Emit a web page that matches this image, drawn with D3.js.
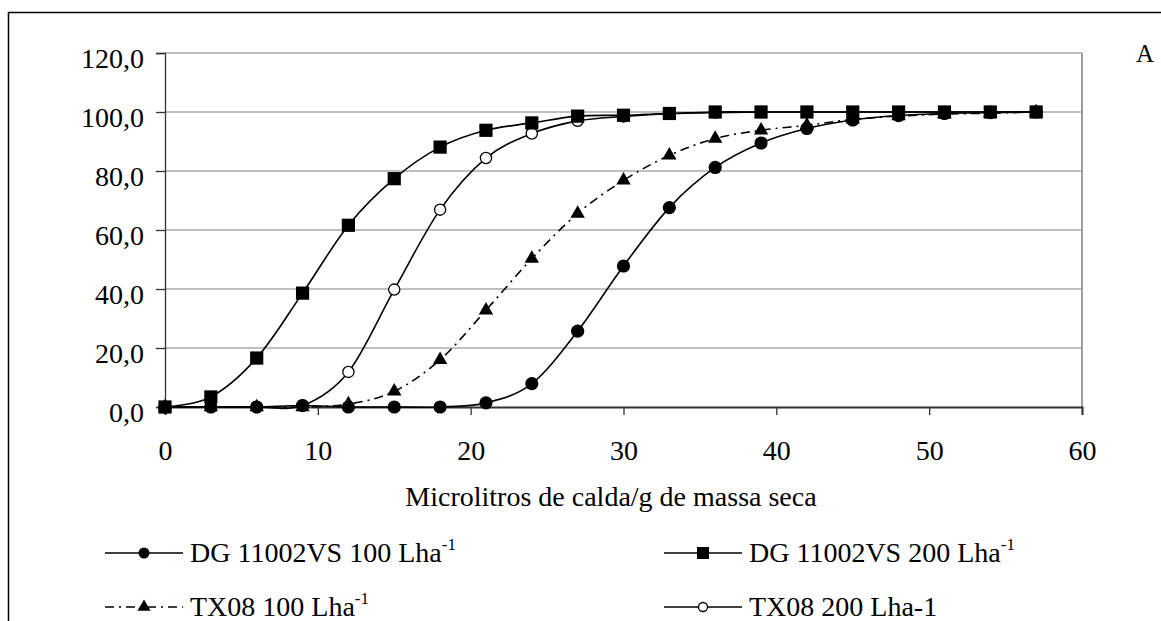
<!DOCTYPE html>
<html><head><meta charset="utf-8">
<script src="https://cdn.jsdelivr.net/npm/d3@7/dist/d3.min.js"></script>
<style>body{margin:0;background:#fff;} text{font-family:"Liberation Serif","Times New Roman",serif;fill:#000;}</style>
</head><body><svg id="c" width="1161" height="621"></svg>
<script>
const xValues = [0,3,6,9,12,15,18,21,24,27,30,33,36,39,42,45,48,51,54,57];
const dg100 = [0,0,0,0.5,0,0,0,1.4,7.9,25.7,47.8,67.6,81.2,89.5,94.4,97.3,98.8,99.5,99.8,100];
const dg200 = [0,3.4,16.6,38.6,61.6,77.4,88.1,93.8,96.3,98.6,98.9,99.5,100,100,100,100,100,100,100,100];
const tx100 = [0,0,0,0,1,5.3,16,32.8,50.3,65.6,76.8,85.3,91,93.8,95.5,97.5,98.6,99.3,99.6,100];
const tx200 = [0,0,0,0.5,11.9,39.8,66.9,84.4,92.7,97,98.5,99.4,99.8,100,100,100,100,100,100,100];
const seriesNames = ["DG 11002VS 100 Lha","DG 11002VS 200 Lha","TX08 100 Lha","TX08 200 Lha-1"];
const seriesSup = ["-1","-1","-1",""];
const xTicks = [0,10,20,30,40,50,60];
const yTicks = [0,20,40,60,80,100,120];
const yTickLabels = ["0,0","20,0","40,0","60,0","80,0","100,0","120,0"];
const xTitle = "Microlitros de calda/g de massa seca";
const panelLabel = "A";

const svg = d3.select("#c");
const x = d3.scaleLinear().domain([0,60]).range([165,1082]);
const y = d3.scaleLinear().domain([0,120]).range([407,53]);

// outer frame (clipped right/bottom)
svg.append("path").attr("d","M8.5,621 V12.5 H1161").attr("fill","none").attr("stroke","#000").attr("stroke-width",1.5);

// gridlines
svg.append("g").selectAll("line").data(yTicks.filter(d=>d>0)).join("line")
  .attr("x1",x(0)).attr("x2",x(60)).attr("y1",d=>y(d)).attr("y2",d=>y(d))
  .attr("stroke","#808080").attr("stroke-width",1.2);
// right border of plot area
svg.append("line").attr("x1",x(60)).attr("x2",x(60)).attr("y1",y(120)).attr("y2",y(0))
  .attr("stroke","#808080").attr("stroke-width",1.5);

// axes
const yAxis = d3.axisLeft(y).tickValues(yTicks).tickSize(9).tickPadding(12)
  .tickFormat((d,i)=>yTickLabels[i]);
const gy = svg.append("g").attr("transform",`translate(${x(0)},0)`).call(yAxis);
gy.select(".domain").attr("stroke","#333").attr("stroke-width",1.3);
gy.selectAll(".tick line").attr("stroke","#333").attr("stroke-width",1.3);
gy.selectAll("text").attr("font-size",28).attr("dy","0.5em").style("font-family","Liberation Serif").attr("fill","#000");

const xAxis = d3.axisBottom(x).tickValues(xTicks).tickSize(8).tickPadding(25).tickFormat(d3.format("d"));
const gx = svg.append("g").attr("transform",`translate(0,${y(0)})`).call(xAxis);
gx.select(".domain").attr("stroke","#333").attr("stroke-width",2);
gx.selectAll(".tick line").attr("stroke","#333").attr("stroke-width",1.3);
gx.selectAll("text").attr("font-size",28).style("font-family","Liberation Serif").attr("fill","#000");

svg.append("text").attr("x",611).attr("y",506).attr("text-anchor","middle").attr("font-size",28).text(xTitle);
svg.append("text").attr("x",1136).attr("y",62).attr("font-size",25).text(panelLabel);

const series = [
  {v:dg100, marker:"circle", dash:null},
  {v:dg200, marker:"square", dash:null},
  {v:tx100, marker:"triangle", dash:"9,5,2,5"},
  {v:tx200, marker:"open", dash:null}
];

function drawMarker(g, type, cx, cy){
  if(type==="circle") g.append("circle").attr("cx",cx).attr("cy",cy).attr("r",6.6).attr("fill","#000");
  else if(type==="square") g.append("rect").attr("x",cx-6.6).attr("y",cy-6.6).attr("width",13.2).attr("height",13.2).attr("fill","#000");
  else if(type==="triangle") g.append("path").attr("d",d3.symbol().type(d3.symbolTriangle).size(90)()).attr("transform",`translate(${cx},${cy})`).attr("fill","#000");
  else g.append("circle").attr("cx",cx).attr("cy",cy).attr("r",5.6).attr("fill","#fff").attr("stroke","#000").attr("stroke-width",1.3);
}

const line = d3.line().x((d,i)=>x(xValues[i])).y(d=>y(d)).curve(d3.curveCardinal.tension(0));
series.forEach(s=>{
  svg.append("path").attr("d",line(s.v)).attr("fill","none").attr("stroke","#000").attr("stroke-width",1.6)
    .attr("stroke-dasharray",s.dash);
});
// markers: draw order so squares end up on top, as in the reference
[3,0,2,1].forEach(k=>{
  const s = series[k];
  const g = svg.append("g");
  s.v.forEach((v,i)=>drawMarker(g,s.marker,x(xValues[i]),y(v)));
});

// legend
const legPos = [[105,553],[664,553],[105,607],[664,607]];
series.forEach((s,i)=>{
  const [lx,ly] = legPos[i];
  const g = svg.append("g");
  g.append("line").attr("x1",lx).attr("x2",lx+78).attr("y1",ly).attr("y2",ly).attr("stroke","#000").attr("stroke-width",1.6).attr("stroke-dasharray",s.dash);
  const ms = s.marker;
  if(ms==="circle") g.append("circle").attr("cx",lx+39).attr("cy",ly).attr("r",5.5).attr("fill","#000");
  else if(ms==="square") g.append("rect").attr("x",lx+33).attr("y",ly-6).attr("width",12).attr("height",12).attr("fill","#000");
  else if(ms==="triangle") g.append("path").attr("d",d3.symbol().type(d3.symbolTriangle).size(75)()).attr("transform",`translate(${lx+39},${ly})`).attr("fill","#000");
  else g.append("circle").attr("cx",lx+39).attr("cy",ly).attr("r",4.5).attr("fill","#fff").attr("stroke","#000").attr("stroke-width",1.3);
  const t = g.append("text").attr("x",lx+85).attr("y",ly+9).attr("font-size",28);
  t.append("tspan").text(seriesNames[i]);
  if(seriesSup[i]) t.append("tspan").attr("font-size",17).attr("dy",-12).text(seriesSup[i]);
});
</script></body></html>
